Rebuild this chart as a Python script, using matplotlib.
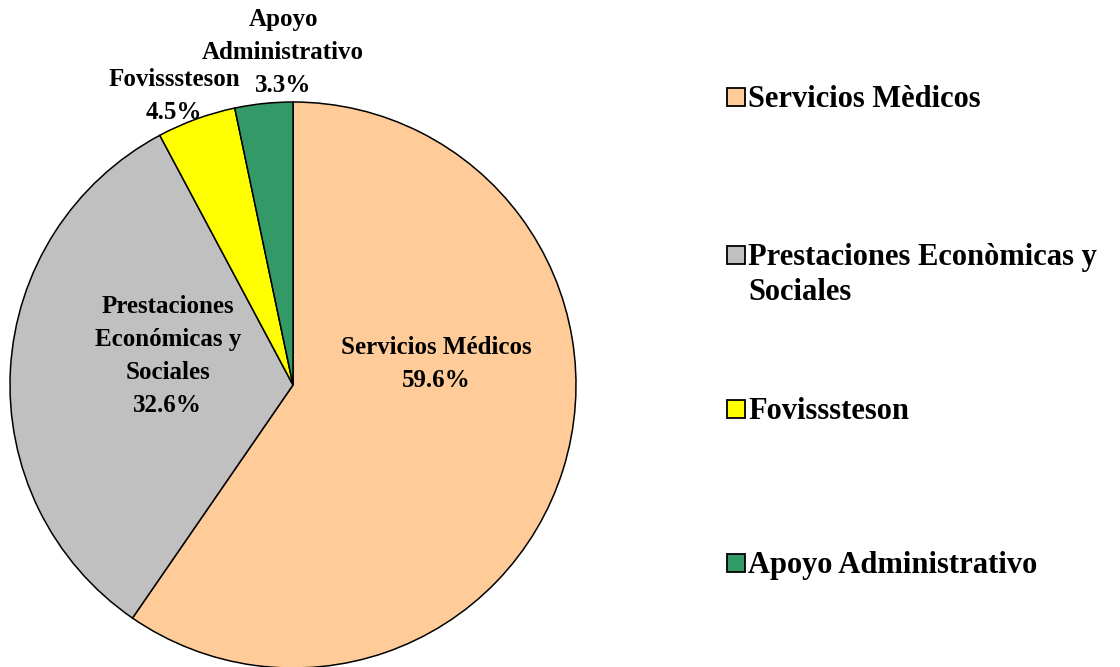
import matplotlib
matplotlib.use("Agg")
import matplotlib.pyplot as plt
from matplotlib.patches import Rectangle

plt.rcParams['font.family'] = ['Liberation Serif', 'DejaVu Serif']
plt.rcParams['font.weight'] = 'bold'

# data
categories = ["Servicios Médicos", "Prestaciones\nEconómicas y\nSociales", "Fovisssteson", "Apoyo\nAdministrativo"]
legend_labels = ["Servicios Mèdicos", "Prestaciones Econòmicas y\nSociales", "Fovisssteson", "Apoyo Administrativo"]
shares = [59.6, 32.6, 4.5, 3.3]
colors = ["#FFCC99", "#C0C0C0", "#FFFF00", "#339966"]

# label positions (in pie radius units) and legend baselines (pixels)
label_pos = [(0.505, 0.074), (-0.443, 0.102), (-0.42, 1.022), (-0.035, 1.175)]
legend_y = [107, 265, 419, 573]

W, H = 1120, 667
fig = plt.figure(figsize=(W / 100, H / 100), dpi=100)

R = 283
cx, cy = 293, 385
ax = fig.add_axes([(cx - R) / W, (H - cy - R) / H, 2 * R / W, 2 * R / H])
wedges, _ = ax.pie(shares, colors=colors, startangle=90, counterclock=False,
                   wedgeprops=dict(edgecolor="black", linewidth=1.1))
ax.set_xlim(-1, 1)
ax.set_ylim(-1, 1)
ax.set_aspect("equal")
ax.axis("off")

for name, val, (x, y) in zip(categories, shares, label_pos):
    ax.text(x, y, f"{name}\n{val:.1f}%", ha="center", va="center",
            fontsize=18, fontweight="bold", linespacing=1.55, clip_on=False)

# legend drawn on an overlay in pixel coordinates
ov = fig.add_axes([0, 0, 1, 1])
ov.set_xlim(0, W)
ov.set_ylim(H, 0)
ov.axis("off")
ov.patch.set_alpha(0)
for lab, col, y in zip(legend_labels, colors, legend_y):
    ov.add_patch(Rectangle((727, y - 19), 18, 18, facecolor=col, edgecolor="black", linewidth=1.3))
    first, *rest = lab.split("\n")
    ov.text(748, y, first, ha="left", va="baseline", fontsize=22, fontweight="bold")
    for i, line in enumerate(rest, 1):
        ov.text(748, y + 35 * i, line, ha="left", va="baseline", fontsize=22, fontweight="bold")

fig.savefig("out.png", dpi=100)
